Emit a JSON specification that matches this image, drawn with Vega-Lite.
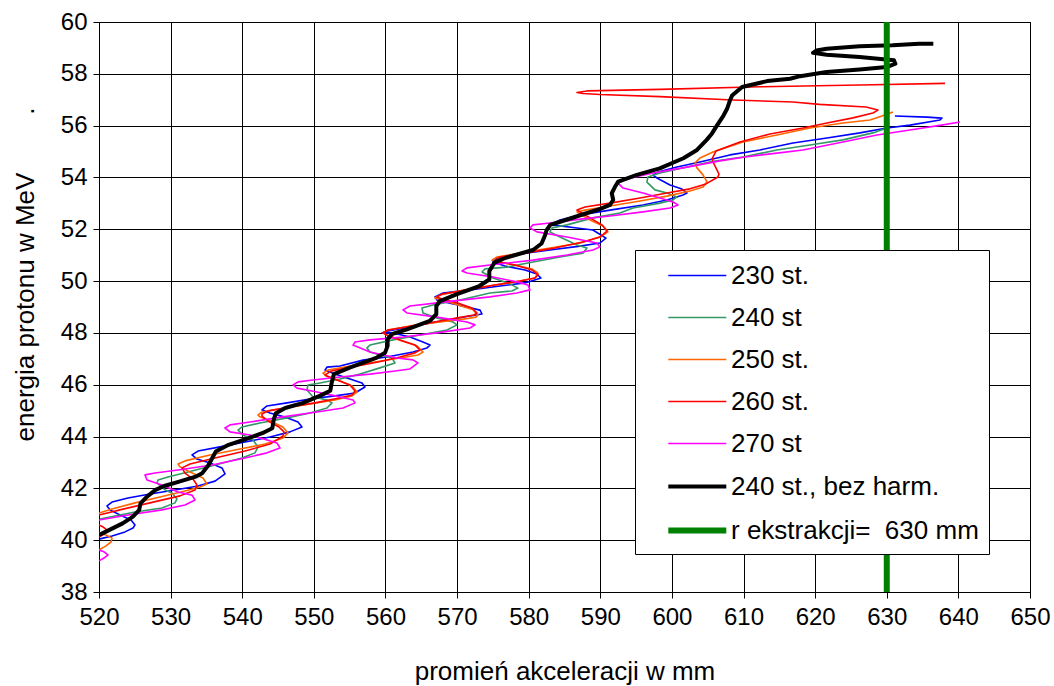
{
"$schema": "https://vega.github.io/schema/vega-lite/v6.json",
"width": 931, "height": 570, "autosize": "none",
"padding": {"left": 99, "top": 22, "right": 24, "bottom": 94},
"background": "white",
"config": {
 "view": {"stroke": "#000", "strokeWidth": 1},
 "axis": {"gridColor": "#000", "gridOpacity": 1, "gridWidth": 1, "domainColor": "#000", "tickColor": "#000", "labelColor": "#000", "titleColor": "#000", "labelFont": "Liberation Sans", "titleFont": "Liberation Sans", "titleFontWeight": "normal", "labelFlush": false, "labelOverlap": false},
 "legend": {"labelFont": "Liberation Sans", "labelColor": "#000"}
},
"data": {"values": [
{"s":"230 st.","x":520.14,"y":40.05},{"s":"230 st.","x":521.82,"y":40.16},{"s":"230 st.","x":523.63,"y":40.32},{"s":"230 st.","x":524.75,"y":40.47},{"s":"230 st.","x":525.03,"y":40.59},{"s":"230 st.","x":524.47,"y":40.78},{"s":"230 st.","x":522.93,"y":40.97},{"s":"230 st.","x":521.54,"y":41.17},{"s":"230 st.","x":521.12,"y":41.32},{"s":"230 st.","x":521.82,"y":41.47},{"s":"230 st.","x":524.05,"y":41.63},{"s":"230 st.","x":527.12,"y":41.78},{"s":"230 st.","x":530.61,"y":41.94},{"s":"230 st.","x":533.82,"y":42.09},{"s":"230 st.","x":536.2,"y":42.28},{"s":"230 st.","x":537.6,"y":42.56},{"s":"230 st.","x":537.17,"y":42.79},{"s":"230 st.","x":535.5,"y":42.98},{"s":"230 st.","x":533.68,"y":43.13},{"s":"230 st.","x":532.99,"y":43.29},{"s":"230 st.","x":533.82,"y":43.44},{"s":"230 st.","x":536.9,"y":43.6},{"s":"230 st.","x":540.39,"y":43.79},{"s":"230 st.","x":543.88,"y":43.98},{"s":"230 st.","x":546.67,"y":44.18},{"s":"230 st.","x":548.34,"y":44.37},{"s":"230 st.","x":547.79,"y":44.56},{"s":"230 st.","x":545.97,"y":44.75},{"s":"230 st.","x":543.88,"y":44.91},{"s":"230 st.","x":542.76,"y":45.03},{"s":"230 st.","x":543.46,"y":45.18},{"s":"230 st.","x":546.25,"y":45.3},{"s":"230 st.","x":549.46,"y":45.45},{"s":"230 st.","x":552.95,"y":45.57},{"s":"230 st.","x":555.74,"y":45.68},{"s":"230 st.","x":557.14,"y":45.91},{"s":"230 st.","x":556.72,"y":46.07},{"s":"230 st.","x":555.05,"y":46.22},{"s":"230 st.","x":552.95,"y":46.41},{"s":"230 st.","x":551.56,"y":46.57},{"s":"230 st.","x":551.83,"y":46.68},{"s":"230 st.","x":553.65,"y":46.72},{"s":"230 st.","x":556.86,"y":46.95},{"s":"230 st.","x":560.21,"y":47.07},{"s":"230 st.","x":563.84,"y":47.26},{"s":"230 st.","x":565.8,"y":47.42},{"s":"230 st.","x":566.22,"y":47.53},{"s":"230 st.","x":565.24,"y":47.65},{"s":"230 st.","x":563.42,"y":47.84},{"s":"230 st.","x":561.05,"y":48.0},{"s":"230 st.","x":559.51,"y":48.0},{"s":"230 st.","x":560.21,"y":48.07},{"s":"230 st.","x":564.82,"y":48.31},{"s":"230 st.","x":568.59,"y":48.5},{"s":"230 st.","x":571.8,"y":48.65},{"s":"230 st.","x":573.48,"y":48.73},{"s":"230 st.","x":573.2,"y":48.88},{"s":"230 st.","x":571.38,"y":49.0},{"s":"230 st.","x":569.01,"y":49.15},{"s":"230 st.","x":567.19,"y":49.27},{"s":"230 st.","x":566.91,"y":49.39},{"s":"230 st.","x":568.03,"y":49.54},{"s":"230 st.","x":571.8,"y":49.66},{"s":"230 st.","x":575.99,"y":49.81},{"s":"230 st.","x":579.48,"y":49.93},{"s":"230 st.","x":581.71,"y":50.12},{"s":"230 st.","x":581.15,"y":50.27},{"s":"230 st.","x":579.48,"y":50.43},{"s":"230 st.","x":576.69,"y":50.58},{"s":"230 st.","x":575.01,"y":50.74},{"s":"230 st.","x":575.57,"y":50.89},{"s":"230 st.","x":578.78,"y":51.05},{"s":"230 st.","x":582.97,"y":51.2},{"s":"230 st.","x":587.16,"y":51.35},{"s":"230 st.","x":589.95,"y":51.47},{"s":"230 st.","x":590.79,"y":51.66},{"s":"230 st.","x":588.97,"y":51.97},{"s":"230 st.","x":586.74,"y":52.05},{"s":"230 st.","x":584.37,"y":52.13},{"s":"230 st.","x":582.97,"y":52.17},{"s":"230 st.","x":584.37,"y":52.36},{"s":"230 st.","x":587.16,"y":52.55},{"s":"230 st.","x":591.35,"y":52.74},{"s":"230 st.","x":595.96,"y":52.94},{"s":"230 st.","x":599.31,"y":53.13},{"s":"230 st.","x":601.54,"y":53.32},{"s":"230 st.","x":602.1,"y":53.4},{"s":"230 st.","x":601.4,"y":53.55},{"s":"230 st.","x":599.73,"y":53.71},{"s":"230 st.","x":597.91,"y":53.98},{"s":"230 st.","x":597.35,"y":54.09},{"s":"230 st.","x":598.05,"y":54.21},{"s":"230 st.","x":600.7,"y":54.4},{"s":"230 st.","x":603.91,"y":54.6},{"s":"230 st.","x":608.1,"y":54.87},{"s":"230 st.","x":612.29,"y":55.06},{"s":"230 st.","x":616.9,"y":55.33},{"s":"230 st.","x":621.65,"y":55.52},{"s":"230 st.","x":626.25,"y":55.72},{"s":"230 st.","x":630.02,"y":55.91},{"s":"230 st.","x":633.24,"y":56.02},{"s":"230 st.","x":637.43,"y":56.22},{"s":"230 st.","x":637.7,"y":56.29},{"s":"230 st.","x":635.61,"y":56.33},{"s":"230 st.","x":631.14,"y":56.37},
{"s":"240 st","x":520.14,"y":40.82},{"s":"240 st","x":522.23,"y":40.93},{"s":"240 st","x":525.03,"y":41.09},{"s":"240 st","x":528.8,"y":41.24},{"s":"240 st","x":530.61,"y":41.44},{"s":"240 st","x":530.89,"y":41.59},{"s":"240 st","x":530.19,"y":41.82},{"s":"240 st","x":529.22,"y":41.94},{"s":"240 st","x":528.1,"y":42.21},{"s":"240 st","x":528.24,"y":42.32},{"s":"240 st","x":529.63,"y":42.44},{"s":"240 st","x":532.43,"y":42.63},{"s":"240 st","x":536.2,"y":42.9},{"s":"240 st","x":539.97,"y":43.17},{"s":"240 st","x":541.78,"y":43.37},{"s":"240 st","x":542.2,"y":43.6},{"s":"240 st","x":541.5,"y":43.87},{"s":"240 st","x":540.11,"y":44.06},{"s":"240 st","x":539.41,"y":44.25},{"s":"240 st","x":539.97,"y":44.37},{"s":"240 st","x":542.48,"y":44.52},{"s":"240 st","x":546.25,"y":44.72},{"s":"240 st","x":549.46,"y":44.91},{"s":"240 st","x":551.83,"y":45.1},{"s":"240 st","x":552.53,"y":45.3},{"s":"240 st","x":551.83,"y":45.41},{"s":"240 st","x":549.88,"y":45.53},{"s":"240 st","x":549.04,"y":45.8},{"s":"240 st","x":549.18,"y":45.99},{"s":"240 st","x":550.86,"y":46.07},{"s":"240 st","x":553.65,"y":46.22},{"s":"240 st","x":556.44,"y":46.41},{"s":"240 st","x":559.23,"y":46.65},{"s":"240 st","x":561.33,"y":46.84},{"s":"240 st","x":560.91,"y":47.03},{"s":"240 st","x":559.23,"y":47.15},{"s":"240 st","x":557.84,"y":47.26},{"s":"240 st","x":557.42,"y":47.42},{"s":"240 st","x":557.84,"y":47.53},{"s":"240 st","x":561.05,"y":47.73},{"s":"240 st","x":564.82,"y":47.92},{"s":"240 st","x":568.59,"y":48.11},{"s":"240 st","x":569.99,"y":48.31},{"s":"240 st","x":569.43,"y":48.42},{"s":"240 st","x":567.19,"y":48.58},{"s":"240 st","x":565.24,"y":48.77},{"s":"240 st","x":565.1,"y":48.96},{"s":"240 st","x":566.63,"y":49.08},{"s":"240 st","x":570.4,"y":49.27},{"s":"240 st","x":574.59,"y":49.54},{"s":"240 st","x":577.66,"y":49.62},{"s":"240 st","x":578.5,"y":49.73},{"s":"240 st","x":577.1,"y":49.93},{"s":"240 st","x":575.01,"y":50.12},{"s":"240 st","x":573.48,"y":50.35},{"s":"240 st","x":573.9,"y":50.47},{"s":"240 st","x":576.97,"y":50.54},{"s":"240 st","x":580.6,"y":50.74},{"s":"240 st","x":584.37,"y":50.93},{"s":"240 st","x":587.58,"y":51.08},{"s":"240 st","x":588.14,"y":51.28},{"s":"240 st","x":586.74,"y":51.39},{"s":"240 st","x":584.37,"y":51.7},{"s":"240 st","x":582.97,"y":51.9},{"s":"240 st","x":583.25,"y":52.05},{"s":"240 st","x":585.34,"y":52.17},{"s":"240 st","x":588.97,"y":52.44},{"s":"240 st","x":592.74,"y":52.63},{"s":"240 st","x":594.56,"y":52.82},{"s":"240 st","x":598.33,"y":53.01},{"s":"240 st","x":600.15,"y":53.13},{"s":"240 st","x":600.7,"y":53.25},{"s":"240 st","x":599.31,"y":53.4},{"s":"240 st","x":597.63,"y":53.52},{"s":"240 st","x":596.51,"y":53.82},{"s":"240 st","x":596.65,"y":54.02},{"s":"240 st","x":598.33,"y":54.17},{"s":"240 st","x":605.31,"y":54.6},{"s":"240 st","x":609.92,"y":54.79},{"s":"240 st","x":614.67,"y":55.06},{"s":"240 st","x":619.27,"y":55.25},{"s":"240 st","x":623.88,"y":55.45},{"s":"240 st","x":628.07,"y":55.72},{"s":"240 st","x":630.02,"y":55.91},
{"s":"250 st.","x":520.0,"y":39.62},{"s":"250 st.","x":520.98,"y":39.78},{"s":"250 st.","x":521.68,"y":39.93},{"s":"250 st.","x":521.82,"y":40.08},{"s":"250 st.","x":520.98,"y":40.2},{"s":"250 st.","x":520.0,"y":40.28},{"s":"250 st.","x":519.02,"y":40.63},{"s":"250 st.","x":520.0,"y":41.05},{"s":"250 st.","x":521.82,"y":41.2},{"s":"250 st.","x":525.03,"y":41.44},{"s":"250 st.","x":528.52,"y":41.67},{"s":"250 st.","x":532.01,"y":41.9},{"s":"250 st.","x":534.1,"y":42.05},{"s":"250 st.","x":535.08,"y":42.17},{"s":"250 st.","x":534.52,"y":42.4},{"s":"250 st.","x":532.71,"y":42.63},{"s":"250 st.","x":531.31,"y":42.83},{"s":"250 st.","x":531.03,"y":42.94},{"s":"250 st.","x":532.01,"y":43.06},{"s":"250 st.","x":535.5,"y":43.29},{"s":"250 st.","x":539.69,"y":43.52},{"s":"250 st.","x":543.18,"y":43.71},{"s":"250 st.","x":545.69,"y":43.94},{"s":"250 st.","x":546.39,"y":44.14},{"s":"250 st.","x":545.69,"y":44.37},{"s":"250 st.","x":543.88,"y":44.6},{"s":"250 st.","x":542.48,"y":44.76},{"s":"250 st.","x":542.2,"y":44.83},{"s":"250 st.","x":542.76,"y":44.95},{"s":"250 st.","x":545.97,"y":45.1},{"s":"250 st.","x":549.46,"y":45.26},{"s":"250 st.","x":552.95,"y":45.41},{"s":"250 st.","x":555.33,"y":45.57},{"s":"250 st.","x":556.03,"y":45.72},{"s":"250 st.","x":555.33,"y":45.95},{"s":"250 st.","x":553.65,"y":46.14},{"s":"250 st.","x":551.7,"y":46.34},{"s":"250 st.","x":551.28,"y":46.45},{"s":"250 st.","x":551.98,"y":46.57},{"s":"250 st.","x":555.05,"y":46.72},{"s":"250 st.","x":558.54,"y":46.88},{"s":"250 st.","x":562.03,"y":47.03},{"s":"250 st.","x":564.54,"y":47.15},{"s":"250 st.","x":565.24,"y":47.26},{"s":"250 st.","x":564.4,"y":47.5},{"s":"250 st.","x":562.31,"y":47.69},{"s":"250 st.","x":560.35,"y":47.88},{"s":"250 st.","x":559.65,"y":48.0},{"s":"250 st.","x":560.35,"y":48.11},{"s":"250 st.","x":563.42,"y":48.27},{"s":"250 st.","x":567.61,"y":48.42},{"s":"250 st.","x":571.1,"y":48.54},{"s":"250 st.","x":572.64,"y":48.61},{"s":"250 st.","x":572.92,"y":48.69},{"s":"250 st.","x":572.22,"y":48.89},{"s":"250 st.","x":570.13,"y":49.08},{"s":"250 st.","x":567.89,"y":49.27},{"s":"250 st.","x":566.91,"y":49.35},{"s":"250 st.","x":567.61,"y":49.46},{"s":"250 st.","x":571.1,"y":49.66},{"s":"250 st.","x":575.29,"y":49.85},{"s":"250 st.","x":578.78,"y":50.0},{"s":"250 st.","x":580.87,"y":50.12},{"s":"250 st.","x":581.3,"y":50.31},{"s":"250 st.","x":580.46,"y":50.47},{"s":"250 st.","x":578.08,"y":50.62},{"s":"250 st.","x":575.71,"y":50.74},{"s":"250 st.","x":574.87,"y":50.81},{"s":"250 st.","x":575.57,"y":50.93},{"s":"250 st.","x":578.78,"y":51.08},{"s":"250 st.","x":582.97,"y":51.28},{"s":"250 st.","x":587.16,"y":51.47},{"s":"250 st.","x":589.95,"y":51.7},{"s":"250 st.","x":591.07,"y":51.9},{"s":"250 st.","x":590.37,"y":52.13},{"s":"250 st.","x":588.56,"y":52.36},{"s":"250 st.","x":587.16,"y":52.59},{"s":"250 st.","x":586.74,"y":52.67},{"s":"250 st.","x":587.86,"y":52.74},{"s":"250 st.","x":591.35,"y":52.9},{"s":"250 st.","x":595.54,"y":53.09},{"s":"250 st.","x":599.31,"y":53.28},{"s":"250 st.","x":602.52,"y":53.48},{"s":"250 st.","x":604.34,"y":53.63},{"s":"250 st.","x":604.9,"y":53.83},{"s":"250 st.","x":604.34,"y":54.1},{"s":"250 st.","x":603.5,"y":54.37},{"s":"250 st.","x":603.22,"y":54.56},{"s":"250 st.","x":603.92,"y":54.75},{"s":"250 st.","x":605.73,"y":54.98},{"s":"250 st.","x":609.92,"y":55.37},{"s":"250 st.","x":614.67,"y":55.64},{"s":"250 st.","x":619.27,"y":55.91},{"s":"250 st.","x":623.88,"y":56.1},{"s":"250 st.","x":627.65,"y":56.22},{"s":"250 st.","x":629.33,"y":56.37},{"s":"250 st.","x":630.87,"y":56.53},
{"s":"260 st.","x":520.0,"y":40.12},{"s":"260 st.","x":520.7,"y":40.24},{"s":"260 st.","x":521.12,"y":40.39},{"s":"260 st.","x":520.56,"y":40.51},{"s":"260 st.","x":520.0,"y":40.59},{"s":"260 st.","x":519.16,"y":40.78},{"s":"260 st.","x":520.0,"y":40.97},{"s":"260 st.","x":522.93,"y":41.17},{"s":"260 st.","x":527.12,"y":41.44},{"s":"260 st.","x":531.31,"y":41.71},{"s":"260 st.","x":533.41,"y":41.94},{"s":"260 st.","x":533.68,"y":42.13},{"s":"260 st.","x":533.13,"y":42.36},{"s":"260 st.","x":532.01,"y":42.59},{"s":"260 st.","x":531.59,"y":42.79},{"s":"260 st.","x":532.71,"y":42.94},{"s":"260 st.","x":536.2,"y":43.17},{"s":"260 st.","x":540.39,"y":43.44},{"s":"260 st.","x":543.88,"y":43.71},{"s":"260 st.","x":545.69,"y":44.02},{"s":"260 st.","x":545.83,"y":44.18},{"s":"260 st.","x":545.13,"y":44.37},{"s":"260 st.","x":543.6,"y":44.6},{"s":"260 st.","x":542.76,"y":44.79},{"s":"260 st.","x":542.76,"y":44.87},{"s":"260 st.","x":543.6,"y":44.99},{"s":"260 st.","x":546.67,"y":45.14},{"s":"260 st.","x":550.16,"y":45.3},{"s":"260 st.","x":553.55,"y":45.49},{"s":"260 st.","x":555.33,"y":45.6},{"s":"260 st.","x":555.75,"y":45.76},{"s":"260 st.","x":555.05,"y":45.99},{"s":"260 st.","x":553.24,"y":46.18},{"s":"260 st.","x":551.84,"y":46.34},{"s":"260 st.","x":551.56,"y":46.38},{"s":"260 st.","x":552.43,"y":46.53},{"s":"260 st.","x":555.33,"y":46.69},{"s":"260 st.","x":558.96,"y":46.88},{"s":"260 st.","x":562.03,"y":47.07},{"s":"260 st.","x":564.12,"y":47.23},{"s":"260 st.","x":564.82,"y":47.34},{"s":"260 st.","x":564.12,"y":47.53},{"s":"260 st.","x":562.03,"y":47.73},{"s":"260 st.","x":560.21,"y":47.92},{"s":"260 st.","x":559.65,"y":48.0},{"s":"260 st.","x":560.35,"y":48.11},{"s":"260 st.","x":563.7,"y":48.27},{"s":"260 st.","x":567.61,"y":48.46},{"s":"260 st.","x":570.68,"y":48.61},{"s":"260 st.","x":572.36,"y":48.69},{"s":"260 st.","x":572.78,"y":48.77},{"s":"260 st.","x":572.08,"y":48.96},{"s":"260 st.","x":569.99,"y":49.16},{"s":"260 st.","x":567.89,"y":49.31},{"s":"260 st.","x":567.19,"y":49.39},{"s":"260 st.","x":567.89,"y":49.5},{"s":"260 st.","x":571.52,"y":49.66},{"s":"260 st.","x":575.29,"y":49.85},{"s":"260 st.","x":578.78,"y":50.0},{"s":"260 st.","x":580.87,"y":50.12},{"s":"260 st.","x":581.3,"y":50.24},{"s":"260 st.","x":580.46,"y":50.43},{"s":"260 st.","x":578.08,"y":50.62},{"s":"260 st.","x":575.99,"y":50.74},{"s":"260 st.","x":575.29,"y":50.78},{"s":"260 st.","x":575.99,"y":50.93},{"s":"260 st.","x":579.48,"y":51.08},{"s":"260 st.","x":583.67,"y":51.28},{"s":"260 st.","x":587.58,"y":51.51},{"s":"260 st.","x":589.95,"y":51.7},{"s":"260 st.","x":590.93,"y":51.93},{"s":"260 st.","x":590.23,"y":52.17},{"s":"260 st.","x":588.56,"y":52.44},{"s":"260 st.","x":587.16,"y":52.67},{"s":"260 st.","x":586.74,"y":52.74},{"s":"260 st.","x":587.86,"y":52.86},{"s":"260 st.","x":591.35,"y":53.01},{"s":"260 st.","x":595.54,"y":53.21},{"s":"260 st.","x":599.31,"y":53.4},{"s":"260 st.","x":602.52,"y":53.56},{"s":"260 st.","x":604.76,"y":53.75},{"s":"260 st.","x":606.43,"y":54.02},{"s":"260 st.","x":606.57,"y":54.13},{"s":"260 st.","x":606.29,"y":54.29},{"s":"260 st.","x":605.87,"y":54.52},{"s":"260 st.","x":605.59,"y":54.71},{"s":"260 st.","x":606.15,"y":55.02},{"s":"260 st.","x":609.5,"y":55.37},{"s":"260 st.","x":613.69,"y":55.68},{"s":"260 st.","x":618.3,"y":55.91},{"s":"260 st.","x":621.65,"y":56.1},{"s":"260 st.","x":625.28,"y":56.3},{"s":"260 st.","x":628.07,"y":56.49},{"s":"260 st.","x":628.77,"y":56.6},{"s":"260 st.","x":627.1,"y":56.72},{"s":"260 st.","x":620.6,"y":56.82},{"s":"260 st.","x":616.9,"y":56.91},{"s":"260 st.","x":608.52,"y":56.99},{"s":"260 st.","x":598.33,"y":57.12},{"s":"260 st.","x":589.95,"y":57.2},{"s":"260 st.","x":587.58,"y":57.24},{"s":"260 st.","x":586.74,"y":57.28},{"s":"260 st.","x":588.14,"y":57.34},{"s":"260 st.","x":598.33,"y":57.4},{"s":"260 st.","x":612.3,"y":57.5},{"s":"260 st.","x":626.26,"y":57.57},{"s":"260 st.","x":638.13,"y":57.63},
{"s":"270 st","x":520.0,"y":39.2},{"s":"270 st","x":520.7,"y":39.31},{"s":"270 st","x":521.26,"y":39.43},{"s":"270 st","x":520.7,"y":39.55},{"s":"270 st","x":520.0,"y":39.62},{"s":"270 st","x":519.16,"y":40.2},{"s":"270 st","x":520.0,"y":40.78},{"s":"270 st","x":524.05,"y":40.97},{"s":"270 st","x":528.8,"y":41.17},{"s":"270 st","x":532.01,"y":41.36},{"s":"270 st","x":533.41,"y":41.55},{"s":"270 st","x":532.99,"y":41.74},{"s":"270 st","x":531.03,"y":41.86},{"s":"270 st","x":528.8,"y":42.13},{"s":"270 st","x":526.71,"y":42.32},{"s":"270 st","x":526.42,"y":42.52},{"s":"270 st","x":527.82,"y":42.59},{"s":"270 st","x":531.03,"y":42.71},{"s":"270 st","x":535.78,"y":42.9},{"s":"270 st","x":540.39,"y":43.17},{"s":"270 st","x":543.46,"y":43.37},{"s":"270 st","x":545.27,"y":43.56},{"s":"270 st","x":544.85,"y":43.75},{"s":"270 st","x":543.46,"y":43.87},{"s":"270 st","x":541.08,"y":44.06},{"s":"270 st","x":538.29,"y":44.18},{"s":"270 st","x":537.59,"y":44.33},{"s":"270 st","x":538.29,"y":44.45},{"s":"270 st","x":541.08,"y":44.56},{"s":"270 st","x":545.69,"y":44.76},{"s":"270 st","x":550.44,"y":44.95},{"s":"270 st","x":554.07,"y":45.1},{"s":"270 st","x":555.75,"y":45.3},{"s":"270 st","x":555.47,"y":45.41},{"s":"270 st","x":553.65,"y":45.53},{"s":"270 st","x":550.44,"y":45.72},{"s":"270 st","x":547.65,"y":45.87},{"s":"270 st","x":547.09,"y":45.99},{"s":"270 st","x":547.79,"y":46.11},{"s":"270 st","x":549.88,"y":46.18},{"s":"270 st","x":553.65,"y":46.3},{"s":"270 st","x":557.84,"y":46.41},{"s":"270 st","x":561.33,"y":46.53},{"s":"270 st","x":563.42,"y":46.61},{"s":"270 st","x":564.54,"y":46.84},{"s":"270 st","x":563.84,"y":46.96},{"s":"270 st","x":561.61,"y":47.03},{"s":"270 st","x":557.84,"y":47.26},{"s":"270 st","x":555.47,"y":47.53},{"s":"270 st","x":555.75,"y":47.65},{"s":"270 st","x":557.84,"y":47.73},{"s":"270 st","x":562.45,"y":47.84},{"s":"270 st","x":567.19,"y":48.0},{"s":"270 st","x":571.8,"y":48.19},{"s":"270 st","x":572.5,"y":48.31},{"s":"270 st","x":571.38,"y":48.42},{"s":"270 st","x":567.19,"y":48.61},{"s":"270 st","x":563.0,"y":48.77},{"s":"270 st","x":562.45,"y":48.89},{"s":"270 st","x":563.42,"y":49.04},{"s":"270 st","x":567.19,"y":49.16},{"s":"270 st","x":574.59,"y":49.39},{"s":"270 st","x":578.36,"y":49.54},{"s":"270 st","x":580.18,"y":49.66},{"s":"270 st","x":579.9,"y":49.85},{"s":"270 st","x":578.36,"y":49.97},{"s":"270 st","x":575.01,"y":50.16},{"s":"270 st","x":571.38,"y":50.31},{"s":"270 st","x":570.69,"y":50.39},{"s":"270 st","x":571.38,"y":50.51},{"s":"270 st","x":574.59,"y":50.62},{"s":"270 st","x":580.6,"y":50.81},{"s":"270 st","x":585.35,"y":51.01},{"s":"270 st","x":588.98,"y":51.2},{"s":"270 st","x":589.95,"y":51.32},{"s":"270 st","x":589.53,"y":51.47},{"s":"270 st","x":585.35,"y":51.7},{"s":"270 st","x":581.16,"y":51.9},{"s":"270 st","x":580.18,"y":52.05},{"s":"270 st","x":580.6,"y":52.17},{"s":"270 st","x":582.97,"y":52.24},{"s":"270 st","x":587.58,"y":52.4},{"s":"270 st","x":591.35,"y":52.51},{"s":"270 st","x":595.96,"y":52.67},{"s":"270 st","x":599.73,"y":52.82},{"s":"270 st","x":600.85,"y":52.94},{"s":"270 st","x":600.15,"y":53.05},{"s":"270 st","x":598.33,"y":53.21},{"s":"270 st","x":595.96,"y":53.4},{"s":"270 st","x":593.17,"y":53.59},{"s":"270 st","x":592.47,"y":53.79},{"s":"270 st","x":593.72,"y":53.94},{"s":"270 st","x":597.35,"y":54.17},{"s":"270 st","x":602.1,"y":54.4},{"s":"270 st","x":606.71,"y":54.64},{"s":"270 st","x":610.2,"y":54.79},{"s":"270 st","x":614.67,"y":54.94},{"s":"270 st","x":618.3,"y":55.06},{"s":"270 st","x":623.88,"y":55.37},{"s":"270 st","x":628.63,"y":55.64},{"s":"270 st","x":633.24,"y":55.83},{"s":"270 st","x":637.85,"y":56.03},{"s":"270 st","x":640.22,"y":56.14},
{"s":"240 st., bez harm.","x":520.0,"y":40.2},{"s":"240 st., bez harm.","x":520.9,"y":40.32},{"s":"240 st., bez harm.","x":523.3,"y":40.65},{"s":"240 st., bez harm.","x":524.7,"y":40.9},{"s":"240 st., bez harm.","x":525.6,"y":41.16},{"s":"240 st., bez harm.","x":525.8,"y":41.42},{"s":"240 st., bez harm.","x":526.7,"y":41.68},{"s":"240 st., bez harm.","x":527.9,"y":41.94},{"s":"240 st., bez harm.","x":529.1,"y":42.09},{"s":"240 st., bez harm.","x":531.2,"y":42.26},{"s":"240 st., bez harm.","x":533.5,"y":42.45},{"s":"240 st., bez harm.","x":534.4,"y":42.58},{"s":"240 st., bez harm.","x":535.3,"y":42.9},{"s":"240 st., bez harm.","x":535.8,"y":43.16},{"s":"240 st., bez harm.","x":536.3,"y":43.42},{"s":"240 st., bez harm.","x":538.1,"y":43.68},{"s":"240 st., bez harm.","x":540.9,"y":43.94},{"s":"240 st., bez harm.","x":542.8,"y":44.13},{"s":"240 st., bez harm.","x":544.2,"y":44.32},{"s":"240 st., bez harm.","x":544.4,"y":44.65},{"s":"240 st., bez harm.","x":544.7,"y":44.9},{"s":"240 st., bez harm.","x":546.0,"y":45.1},{"s":"240 st., bez harm.","x":548.4,"y":45.29},{"s":"240 st., bez harm.","x":550.9,"y":45.58},{"s":"240 st., bez harm.","x":552.3,"y":45.77},{"s":"240 st., bez harm.","x":552.5,"y":46.09},{"s":"240 st., bez harm.","x":552.8,"y":46.41},{"s":"240 st., bez harm.","x":555.1,"y":46.67},{"s":"240 st., bez harm.","x":558.8,"y":47.05},{"s":"240 st., bez harm.","x":559.95,"y":47.24},{"s":"240 st., bez harm.","x":560.3,"y":47.5},{"s":"240 st., bez harm.","x":560.3,"y":47.76},{"s":"240 st., bez harm.","x":560.9,"y":47.95},{"s":"240 st., bez harm.","x":563.0,"y":48.14},{"s":"240 st., bez harm.","x":566.2,"y":48.46},{"s":"240 st., bez harm.","x":567.1,"y":48.72},{"s":"240 st., bez harm.","x":567.1,"y":49.04},{"s":"240 st., bez harm.","x":567.6,"y":49.23},{"s":"240 st., bez harm.","x":569.9,"y":49.49},{"s":"240 st., bez harm.","x":573.1,"y":49.81},{"s":"240 st., bez harm.","x":574.5,"y":50.06},{"s":"240 st., bez harm.","x":574.5,"y":50.38},{"s":"240 st., bez harm.","x":575.2,"y":50.71},{"s":"240 st., bez harm.","x":576.8,"y":50.9},{"s":"240 st., bez harm.","x":580.6,"y":51.2},{"s":"240 st., bez harm.","x":581.8,"y":51.45},{"s":"240 st., bez harm.","x":582.3,"y":51.78},{"s":"240 st., bez harm.","x":582.5,"y":51.97},{"s":"240 st., bez harm.","x":583.0,"y":52.17},{"s":"240 st., bez harm.","x":584.4,"y":52.29},{"s":"240 st., bez harm.","x":587.3,"y":52.55},{"s":"240 st., bez harm.","x":590.1,"y":52.8},{"s":"240 st., bez harm.","x":591.35,"y":52.94},{"s":"240 st., bez harm.","x":591.8,"y":53.13},{"s":"240 st., bez harm.","x":591.6,"y":53.39},{"s":"240 st., bez harm.","x":592.05,"y":53.64},{"s":"240 st., bez harm.","x":592.5,"y":53.84},{"s":"240 st., bez harm.","x":595.1,"y":54.1},{"s":"240 st., bez harm.","x":598.3,"y":54.35},{"s":"240 st., bez harm.","x":601.6,"y":54.74},{"s":"240 st., bez harm.","x":603.5,"y":55.06},{"s":"240 st., bez harm.","x":604.85,"y":55.45},{"s":"240 st., bez harm.","x":605.6,"y":55.7},{"s":"240 st., bez harm.","x":606.3,"y":56.01},{"s":"240 st., bez harm.","x":607.2,"y":56.39},{"s":"240 st., bez harm.","x":607.7,"y":56.65},{"s":"240 st., bez harm.","x":608.1,"y":56.97},{"s":"240 st., bez harm.","x":608.4,"y":57.16},{"s":"240 st., bez harm.","x":609.8,"y":57.49},{"s":"240 st., bez harm.","x":613.3,"y":57.72},{"s":"240 st., bez harm.","x":616.5,"y":57.81},{"s":"240 st., bez harm.","x":617.9,"y":57.91},{"s":"240 st., bez harm.","x":621.6,"y":58.07},{"s":"240 st., bez harm.","x":626.2,"y":58.17},{"s":"240 st., bez harm.","x":630.0,"y":58.26},{"s":"240 st., bez harm.","x":631.2,"y":58.39},{"s":"240 st., bez harm.","x":631.0,"y":58.52},{"s":"240 st., bez harm.","x":626.2,"y":58.65},{"s":"240 st., bez harm.","x":621.6,"y":58.74},{"s":"240 st., bez harm.","x":619.7,"y":58.81},{"s":"240 st., bez harm.","x":620.2,"y":58.9},{"s":"240 st., bez harm.","x":621.6,"y":58.97},{"s":"240 st., bez harm.","x":626.2,"y":59.06},{"s":"240 st., bez harm.","x":630.8,"y":59.1},{"s":"240 st., bez harm.","x":634.5,"y":59.16},{"s":"240 st., bez harm.","x":636.5,"y":59.16},
{"s":"r ekstrakcji=\u00a0 630 mm","x":630,"y":38},{"s":"r ekstrakcji=\u00a0 630 mm","x":630,"y":60}
]},
"mark": {"type": "line", "clip": true, "strokeJoin": "round", "strokeCap": "butt"},
"encoding": {
 "x": {"field": "x", "type": "quantitative", "scale": {"domain": [520, 650], "nice": false, "zero": false},
  "axis": {"values": [520,530,540,550,560,570,580,590,600,610,620,630,640,650], "title": "promień akceleracji w mm", "titleFontSize": 26, "titleBaseline": "alphabetic", "titleY": 87, "labelFontSize": 24, "labelPadding": 7, "tickSize": 6}},
 "y": {"field": "y", "type": "quantitative", "scale": {"domain": [38, 60], "nice": false, "zero": false},
  "axis": {"values": [38,40,42,44,46,48,50,52,54,56,58,60], "title": "energia protonu w MeV\u00a0\u00a0\u00a0\u00a0\u00a0\u00a0\u00a0\u00a0.", "titleFontSize": 26, "titleAngle": 270, "titleAlign": "center", "titleBaseline": "alphabetic", "titleX": -66, "titleY": 252, "labelFontSize": 24, "labelPadding": 6, "tickSize": 6}},
 "color": {"field": "s", "type": "nominal",
  "scale": {"domain": ["230 st.","240 st","250 st.","260 st.","270 st","240 st., bez harm.","r ekstrakcji=\u00a0 630 mm"], "range": ["#0000FF","#339966","#FF6600","#FF0000","#FF00FF","#000000","#008000"]},
  "legend": {"title": null, "orient": "none", "legendX": 536, "legendY": 228, "padding": 10, "strokeColor": "#000", "fillColor": "#fff", "symbolType": "M0.4,0H4.4", "symbolSize": 841, "labelFontSize": 26, "labelOffset": 51, "labelLimit": 400, "rowPadding": 13}},
 "strokeWidth": {"field": "s", "type": "nominal",
  "scale": {"type": "ordinal", "domain": ["230 st.","240 st","250 st.","260 st.","270 st","240 st., bez harm.","r ekstrakcji=\u00a0 630 mm"], "range": [1.6,1.6,1.6,1.6,1.6,4,6]},
  "legend": {"title": null, "orient": "none", "legendX": 536, "legendY": 228, "padding": 10, "strokeColor": "#000", "fillColor": "#fff", "symbolType": "M0.4,0H4.4", "symbolSize": 841, "labelFontSize": 26, "labelOffset": 51, "labelLimit": 400, "rowPadding": 13}},
 "order": {"value": null}
}
}
